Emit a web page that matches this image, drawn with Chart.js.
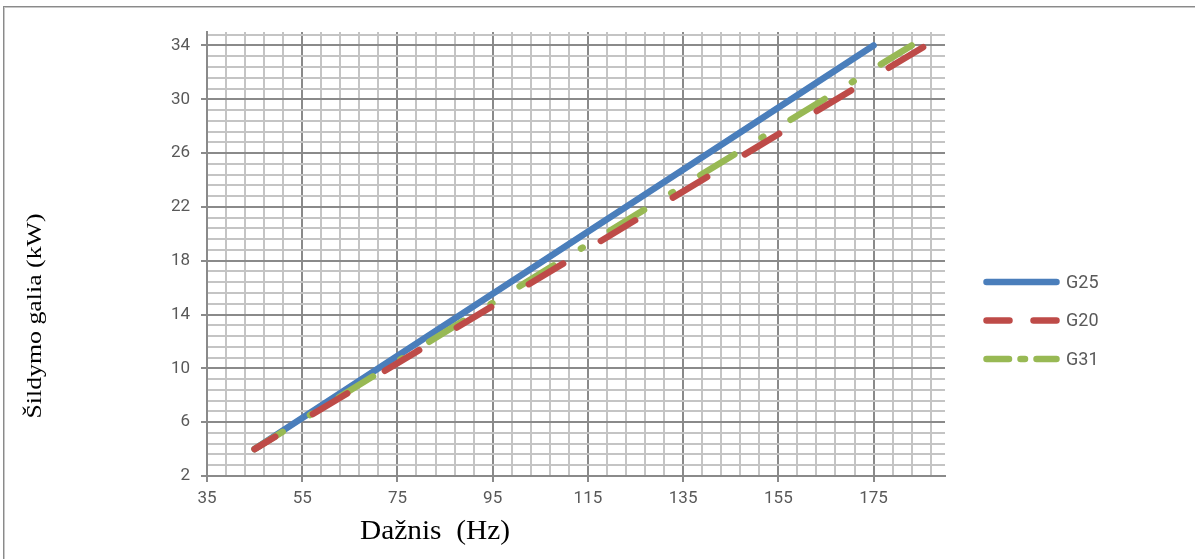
<!DOCTYPE html>
<html>
<head>
<meta charset="utf-8">
<script src="https://cdn.jsdelivr.net/npm/chart.js@4.4.0/dist/chart.umd.min.js"></script>
<style>
  html, body { margin: 0; padding: 0; background: #fff; }
  #wrap { position: relative; width: 1195px; height: 559px; overflow: hidden; }
  #frame { position: absolute; left: 3px; top: 6px; width: 1200px; height: 600px;
           border-top: 1px solid #8a8a8a; border-left: 1px solid #8a8a8a;
           box-shadow: inset 1px 1px 0 #c8c8c8; }
  canvas { position: absolute; left: 0; top: 0; }
</style>
</head>
<body>
<div id="wrap">
  <div id="frame"></div>
  <canvas id="chart" width="1195" height="559"></canvas>
</div>
<script>
// dane
const seriesNames = ['G25', 'G20', 'G31'];
const freqG25 = [45, 175];
const powerG25 = [4, 34];
const freqG20 = [45, 186];
const powerG20 = [4, 34];
const freqG31 = [45, 183];
const powerG31 = [4, 34];

const xMajorTicks = [35, 55, 75, 95, 115, 135, 155, 175];
const yMajorTicks = [2, 6, 10, 14, 18, 22, 26, 30, 34];

const xTitle = 'Dažnis  (Hz)';
const yTitle = 'Šildymo galia (kW)';

// 5 minor divisions between major ticks (excel style grid)
function buildTicks(major, max) {
    var step = (major[1] - major[0]) / 5;
    var out = [];
    for (var v = major[0]; v <= max + 1e-9; v += step) {
        out.push(Math.round(v * 100) / 100);
    }
    return out;
}
var xTicks = buildTicks(xMajorTicks, 190);
var yTicks = buildTicks(yMajorTicks, 35);

function isMajor(list, v) {
    return list.some(function(m) { return Math.abs(m - v) < 1e-6; });
}

function points(xs, ys) {
    return xs.map(function(x, i) { return { x: x, y: ys[i] }; });
}

var tickFont = { family: 'Roboto, "Liberation Sans", sans-serif', size: 17 };
var majorGrid = '#8a8a8a';
var minorGrid = '#c4c4c4';

var lineStyles = {
    G25: { color: '#4a7ebb', dash: [], offset: 0, legendDash: [] },
    G20: { color: '#be4b48', dash: [40, 44], offset: 16, legendDash: [23, 24] },
    G31: { color: '#98b954', dash: [40, 32, 2, 32], offset: 7, legendDash: [22.5, 11.5, 4.5, 11.5] }
};

function makeDataset(name, xs, ys, order) {
    var st = lineStyles[name];
    return {
        label: name,
        data: points(xs, ys),
        borderColor: st.color,
        backgroundColor: st.color,
        borderWidth: 6.5,
        borderDash: st.dash,
        borderDashOffset: st.offset,
        borderCapStyle: 'round',
        pointRadius: 0,
        tension: 0,
        order: order
    };
}

// legenda z prawej + tytuly osi
var sidePlugin = {
    id: 'sidePlugin',
    afterDraw: function(chart) {
        var ctx = chart.ctx;
        var rowsY = [282, 320.5, 359];
        ctx.save();
        seriesNames.forEach(function(name, i) {
            var st = lineStyles[name];
            ctx.beginPath();
            ctx.strokeStyle = st.color;
            ctx.lineWidth = 6.5;
            ctx.lineCap = 'round';
            ctx.setLineDash(st.legendDash);
            ctx.moveTo(986.5, rowsY[i]);
            ctx.lineTo(1056.5, rowsY[i]);
            ctx.stroke();
            ctx.setLineDash([]);
            ctx.fillStyle = '#595959';
            ctx.font = '18px Roboto, "Liberation Sans", sans-serif';
            ctx.textAlign = 'left';
            ctx.textBaseline = 'middle';
            ctx.fillText(name, 1066, rowsY[i] + 1);
        });

        ctx.fillStyle = '#000';
        ctx.textAlign = 'center';
        ctx.textBaseline = 'middle';

        ctx.font = '27px "Liberation Serif", "DejaVu Serif", serif';
        var wx = ctx.measureText(xTitle).width;
        ctx.save();
        ctx.translate(435, 532);
        ctx.scale(150 / wx, 1);
        ctx.fillText(xTitle, 0, 0);
        ctx.restore();

        ctx.font = '22px "Liberation Serif", "DejaVu Serif", serif';
        var wy = ctx.measureText(yTitle).width;
        ctx.save();
        ctx.translate(35, 316);
        ctx.rotate(-Math.PI / 2);
        ctx.scale(205 / wy, 1);
        ctx.fillText(yTitle, 0, 0);
        ctx.restore();
        ctx.restore();
    }
};

var ctx = document.getElementById('chart').getContext('2d');
var chart = new Chart(ctx, {
    type: 'line',
    data: {
        datasets: [
            makeDataset('G25', freqG25, powerG25, 2),
            makeDataset('G20', freqG20, powerG20, 0),
            makeDataset('G31', freqG31, powerG31, 1)
        ]
    },
    options: {
        responsive: false,
        animation: false,
        devicePixelRatio: 1,
        layout: { padding: { left: 147, right: 250, top: 32, bottom: 43 } },
        plugins: {
            legend: { display: false },
            tooltip: { enabled: false },
            title: { display: false }
        },
        scales: {
            x: {
                type: 'linear',
                min: 35,
                max: 190,
                afterBuildTicks: function(scale) {
                    scale.ticks = xTicks.map(function(v) { return { value: v }; });
                },
                afterFit: function(scale) { scale.height = 40; },
                ticks: {
                    autoSkip: false,
                    maxRotation: 0,
                    padding: 7,
                    color: '#595959',
                    font: tickFont,
                    callback: function(v) { return isMajor(xMajorTicks, v) ? String(v) : ''; }
                },
                grid: {
                    lineWidth: 2,
                    color: function(c) { return isMajor(xMajorTicks, c.tick.value) ? majorGrid : minorGrid; },
                    tickLength: 6,
                    tickWidth: 2,
                    tickColor: function(c) { return isMajor(xMajorTicks, c.tick.value) ? majorGrid : 'rgba(0,0,0,0)'; }
                },
                border: { color: majorGrid, width: 2 }
            },
            y: {
                type: 'linear',
                min: 2,
                max: 35,
                afterBuildTicks: function(scale) {
                    scale.ticks = yTicks.map(function(v) { return { value: v }; });
                },
                afterFit: function(scale) { scale.width = 60; },
                ticks: {
                    autoSkip: false,
                    padding: 11,
                    color: '#595959',
                    font: tickFont,
                    callback: function(v) { return isMajor(yMajorTicks, v) ? String(v) : ''; }
                },
                grid: {
                    lineWidth: 2,
                    color: function(c) { return isMajor(yMajorTicks, c.tick.value) ? majorGrid : minorGrid; },
                    tickLength: 6,
                    tickWidth: 2,
                    tickColor: function(c) { return isMajor(yMajorTicks, c.tick.value) ? majorGrid : 'rgba(0,0,0,0)'; }
                },
                border: { color: majorGrid, width: 2 }
            }
        }
    },
    plugins: [sidePlugin]
});
</script>
</body>
</html>
